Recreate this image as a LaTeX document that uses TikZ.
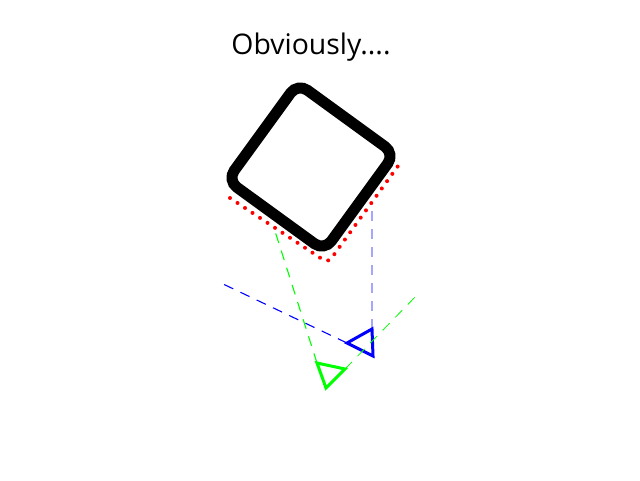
\documentclass[tikz,border=0pt]{standalone}
\usepackage{fontspec}
\setmainfont{Open Sans}
\begin{document}
\begin{tikzpicture}[x=1pt,y=-1pt,
  ray/.style={dash pattern=on 10pt off 8pt,line width=1.1pt},
  cam/.style={line width=3pt,line join=miter}]

\useasboundingbox (0,0) rectangle (640,480);

% Title
\node[anchor=base,font=\fontsize{28.4}{34}\selectfont] (title) at (311,54) {Obviously....};

% Object
\draw[line width=11pt,rounded corners=12pt,rotate around={-36:(311,167)}]
(251,107)
rectangle
(371,227);

% Shadow
\draw[red,line width=4pt,line cap=round,dash pattern=on 0pt off 9pt,rounded corners=6pt]
(230,198)
--
(328,263)
--
(398,166);

% Blue camera
\coordinate (b1) at (347,343);
\coordinate (b2) at (372,329);
\coordinate (b3) at (373,356);
\coordinate (bl) at (221,283);
\coordinate (bt) at (372,210);

\draw[blue,ray] (b1) -- (bl);
\draw[blue!35,ray] (b2) -- (bt);
\draw[blue,cam] (b1) -- (b2) -- (b3) -- cycle;

% Green camera
\coordinate (g1) at (317,363);
\coordinate (g2) at (345,369);
\coordinate (g3) at (326,388);
\coordinate (gl) at (274,228);
\coordinate (gr) at (418,294);

\draw[green,ray] (g1) -- (gl);
\draw[green,ray,line width=0.8pt] (g2) -- (gr);
\draw[green,cam] (g1) -- (g2) -- (g3) -- cycle;

\end{tikzpicture}
\end{document}
